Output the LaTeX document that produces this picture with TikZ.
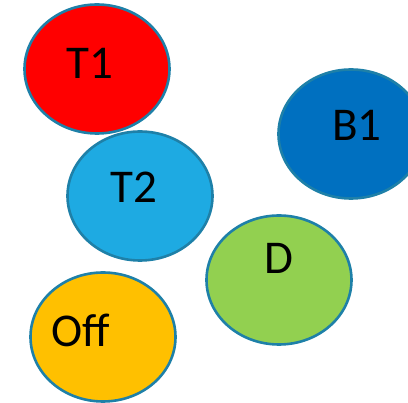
\documentclass[tikz,border=0pt]{standalone}
\usepackage{fontspec}
\setmainfont{Carlito}
\usetikzlibrary{shapes.geometric}
\definecolor{rimblue}{RGB}{30,128,168}
\definecolor{tred}{RGB}{255,0,0}
\definecolor{tsky}{RGB}{30,170,226}
\definecolor{bblue}{RGB}{0,112,192}
\definecolor{dgreen}{RGB}{146,208,80}
\definecolor{offamber}{RGB}{255,192,0}
\tikzset{
  disc/.style={ellipse, draw=rimblue, line width=2.6pt, inner sep=0pt,
    minimum width=145pt, minimum height=129pt},
  tag/.style={inner sep=0pt, text=black, font=\fontsize{47}{51}\selectfont}
}
\begin{document}
\begin{tikzpicture}[x=1pt,y=-1pt]
  \useasboundingbox (0,0) rectangle (408,403);
  \clip (0,0) rectangle (408,403);
  % state discs
  \node[disc, fill=tred]     (t1)  at (97,69)   {};
  \node[disc, fill=bblue]    (b1)  at (351,134) {};
  \node[disc, fill=tsky]     (t2)  at (140,196) {};
  \node[disc, fill=dgreen]   (d)   at (279,280) {};
  \node[disc, fill=offamber] (off) at (103,337) {};
  % labels
  \node[tag] (t1txt)  at (90,63)   {T1};
  \node[tag] (b1txt)  at (357,125) {B1};
  \node[tag] (t2txt)  at (134,187) {T2};
  \node[tag] (dtxt)   at (279,258) {D};
  \node[tag] (offtxt) at (81,330)  {Off};
\end{tikzpicture}
\end{document}
